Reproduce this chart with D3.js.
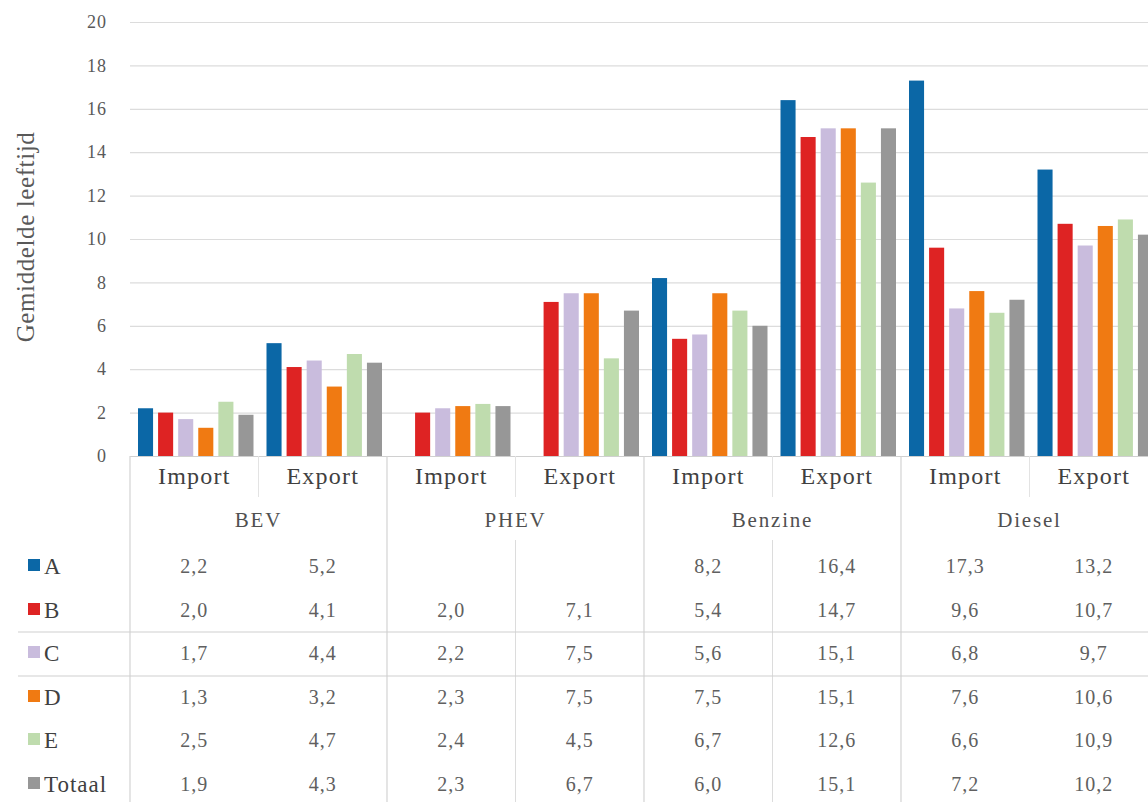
<!DOCTYPE html>
<html><head><meta charset="utf-8">
<script src="https://cdn.jsdelivr.net/npm/d3@7"></script>
<style>
html,body{margin:0;padding:0;background:#fff;overflow:hidden}
svg{display:block}
svg text{font-family:"Liberation Serif","DejaVu Serif",serif}
</style></head>
<body><svg id="c" width="1148" height="802"></svg>
<script>
const groups = ["BEV","PHEV","Benzine","Diesel"];
const subs = ["Import","Export"];
const categories = ["BEV Import","BEV Export","PHEV Import","PHEV Export","Benzine Import","Benzine Export","Diesel Import","Diesel Export"];
const seriesNames = ["A","B","C","D","E","Totaal"];
const seriesColors = ["#0b67a6","#de2323","#c9bcdd","#f07a12","#bfdcae","#979797"];
const valuesA = [2.2,5.2,null,null,8.2,16.4,17.3,13.2];
const valuesB = [2.0,4.1,2.0,7.1,5.4,14.7,9.6,10.7];
const valuesC = [1.7,4.4,2.2,7.5,5.6,15.1,6.8,9.7];
const valuesD = [1.3,3.2,2.3,7.5,7.5,15.1,7.6,10.6];
const valuesE = [2.5,4.7,2.4,4.5,6.7,12.6,6.6,10.9];
const valuesTot = [1.9,4.3,2.3,6.7,6.0,15.1,7.2,10.2];
const yTicks = [0,2,4,6,8,10,12,14,16,18,20];

(function(){
const seriesValues = [valuesA,valuesB,valuesC,valuesD,valuesE,valuesTot];
const svg = d3.select("#c");
const pL = 130, pR = 1158, pT = 22, pB = 456;
const x = d3.scaleBand().domain(categories).range([pL,pR]);
const xi = d3.scaleBand().domain(seriesNames).range([8, x.bandwidth()-5]).paddingInner(0.25);
const y = d3.scaleLinear().domain([0,20]).range([pB,pT]);

// grid
svg.append("g").selectAll("line").data(yTicks).join("line")
  .attr("x1",pL).attr("x2",1148).attr("y1",d=>y(d)+0.5).attr("y2",d=>y(d)+0.5)
  .attr("stroke",d=>d===0?"#d0d0d0":"#dcdcdc").attr("stroke-width",1.2);

// y tick labels
const yAxis = d3.axisLeft(y).tickValues(yTicks).tickSize(0).tickPadding(0).tickFormat(d=>d);
const ga = svg.append("g").attr("transform",`translate(107,0)`).call(yAxis);
ga.select(".domain").remove();
ga.attr("font-family",null);
ga.selectAll("text").style("font-family","'Liberation Serif', serif").attr("font-size",18)
  .attr("letter-spacing",1).attr("fill","#595959");

svg.append("text").attr("transform","translate(34,237) rotate(-90)").attr("text-anchor","middle")
  .attr("font-size",25).attr("letter-spacing",0.6).attr("fill","#595959").text("Gemiddelde leeftijd");

// bars
seriesValues.forEach((vals,si)=>{
  svg.append("g").selectAll("rect").data(vals.map((v,i)=>({v,c:categories[i]})).filter(d=>d.v!==null)).join("rect")
    .attr("x",d=>x(d.c)+xi(seriesNames[si]))
    .attr("width",xi.bandwidth())
    .attr("y",d=>y(d.v)).attr("height",d=>y(0)-y(d.v))
    .attr("fill",seriesColors[si]);
});

// table
const lineCol = "#d3d3d3";
const tbl = svg.append("g");
const rowY = [566,610,653,697,740,784];
categories.forEach((c,i)=>{
  const xx = x(c);
  if (i%2===0) {
    tbl.append("line").attr("x1",xx).attr("x2",xx).attr("y1",pB).attr("y2",802).attr("stroke",lineCol).attr("stroke-width",1.2);
  } else {
    tbl.append("line").attr("x1",xx).attr("x2",xx).attr("y1",pB).attr("y2",497).attr("stroke","#e3e3e3").attr("stroke-width",1);
    if (i===3 || i===5) tbl.append("line").attr("x1",xx).attr("x2",xx).attr("y1",540).attr("y2",802).attr("stroke","#dcdcdc").attr("stroke-width",1);
  }
});
[632,676].forEach(yy=>{
  tbl.append("line").attr("x1",18).attr("x2",1148).attr("y1",yy).attr("y2",yy).attr("stroke","#cfcfcf").attr("stroke-width",1.2);
});
tbl.selectAll("text.sub").data(categories).join("text").attr("class","sub")
  .attr("x",d=>x(d)+x.bandwidth()/2).attr("y",484).attr("text-anchor","middle")
  .attr("font-size",24).attr("letter-spacing",1.2).attr("fill","#404040").text((d,i)=>subs[i%2]);
tbl.selectAll("text.grp").data(groups).join("text").attr("class","grp")
  .attr("x",(d,i)=>x(categories[i*2+1])).attr("y",527).attr("text-anchor","middle")
  .attr("font-size",21).attr("letter-spacing",1.8).attr("fill","#505050").text(d=>d);
seriesNames.forEach((s,si)=>{
  const yy = rowY[si];
  tbl.append("rect").attr("x",28).attr("y",yy-7).attr("width",12).attr("height",12).attr("fill",seriesColors[si]);
  tbl.append("text").attr("x",44).attr("y",yy+8).attr("font-size",23).attr("letter-spacing",1).attr("fill","#404040").text(s);
  tbl.append("g").selectAll("text").data(seriesValues[si].map((v,i)=>({v,c:categories[i]})).filter(d=>d.v!==null)).join("text")
    .attr("x",d=>x(d.c)+x.bandwidth()/2).attr("y",yy+7).attr("text-anchor","middle")
    .attr("font-size",20).attr("letter-spacing",1).attr("fill","#606060").text(d=>d3.format(".1f")(d.v).replace(".",","));
});
})();
</script></body></html>
